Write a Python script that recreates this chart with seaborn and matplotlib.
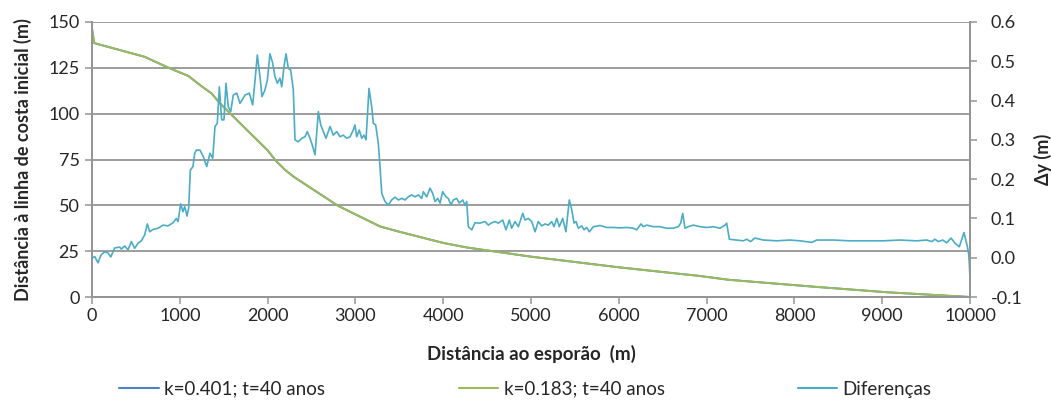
import numpy as np
import pandas as pd
import matplotlib
matplotlib.use("Agg")
import matplotlib.pyplot as plt
import seaborn as sns
from matplotlib.lines import Line2D

# ---------------- data ----------------
k_dist = [0, 25, 600, 850, 1100, 1230, 1363, 1458, 1591, 2000, 2100, 2200, 2300,
          2800, 3280, 3500, 4000, 4270, 5000, 6000, 6700, 6900, 7250, 8200, 9050, 10000]
k183_vals = [146.5, 138.5, 131.0, 125.5, 120.5, 115.6, 111.0, 105.6, 99.3, 80.0, 74.0, 69.3, 65.5,
             49.8, 38.5, 35.6, 29.5, 27.0, 22.0, 16.2, 12.6, 11.6, 9.4, 5.7, 2.6, 0.0]
k401_vals = [146.5, 138.5, 131.0, 125.5, 120.5, 115.6, 111.0, 105.6, 99.3, 80.0, 74.0, 69.3, 65.5,
             49.8, 38.5, 35.6, 29.5, 27.0, 22.0, 16.2, 12.6, 11.6, 9.4, 5.7, 2.6, 0.0]

dif_dist = [0, 31, 68, 103, 145, 182, 213, 259, 316, 334, 372, 410, 448, 486, 524, 562, 600, 630,
            657, 695, 752, 809, 866, 923, 960, 980, 1010, 1036, 1056, 1082, 1101, 1120, 1150,
            1170, 1188, 1230, 1268, 1306, 1344, 1375, 1401, 1427, 1450, 1477, 1503, 1526, 1552,
            1580, 1609, 1648, 1686, 1743, 1792, 1830, 1857, 1883, 1913, 1936, 1970, 1997, 2027,
            2058, 2084, 2111, 2141, 2161, 2187, 2210, 2236, 2263, 2293, 2312, 2350, 2389, 2426,
            2452, 2483, 2514, 2540, 2578, 2605, 2635, 2665, 2711, 2748, 2787, 2825, 2862, 2901,
            2939, 2976, 2995, 3015, 3044, 3072, 3098, 3121, 3155, 3186, 3204, 3231, 3261, 3280,
            3300, 3337, 3375, 3413, 3451, 3489, 3527, 3565, 3603, 3641, 3679, 3717, 3755, 3774,
            3812, 3850, 3880, 3907, 3937, 3964, 3994, 4032, 4058, 4089, 4115, 4154, 4183, 4222,
            4248, 4268, 4286, 4325, 4362, 4419, 4476, 4514, 4553, 4590, 4628, 4678, 4715, 4753,
            4780, 4818, 4856, 4906, 4932, 4969, 5008, 5046, 5083, 5122, 5160, 5197, 5236, 5262,
            5293, 5322, 5361, 5398, 5436, 5464, 5490, 5513, 5539, 5578, 5604, 5634, 5664, 5710,
            5786, 5862, 5937, 6014, 6090, 6165, 6204, 6253, 6279, 6318, 6393, 6469, 6546, 6621,
            6678, 6705, 6728, 6754, 6792, 6849, 6925, 7001, 7077, 7153, 7210, 7229, 7259, 7343,
            7418, 7457, 7502, 7532, 7551, 7646, 7799, 7950, 8064, 8197, 8254, 8443, 8633, 8823,
            9013, 9203, 9393, 9507, 9564, 9601, 9639, 9689, 9734, 9784, 9829, 9878, 9932, 9970,
            9985, 9993, 10000]
dif_vals = [-0.001, 0.003, -0.013, 0.007, 0.015, 0.012, 0.002, 0.025, 0.027, 0.022, 0.030, 0.020,
            0.041, 0.024, 0.037, 0.043, 0.058, 0.086, 0.066, 0.072, 0.075, 0.083, 0.081, 0.089,
            0.100, 0.092, 0.137, 0.117, 0.130, 0.106, 0.126, 0.223, 0.232, 0.266, 0.274, 0.274,
            0.257, 0.232, 0.266, 0.253, 0.334, 0.342, 0.435, 0.351, 0.351, 0.444, 0.384, 0.372,
            0.414, 0.419, 0.393, 0.414, 0.419, 0.389, 0.452, 0.516, 0.461, 0.410, 0.427, 0.452,
            0.519, 0.495, 0.461, 0.444, 0.457, 0.435, 0.486, 0.519, 0.482, 0.478, 0.427, 0.300,
            0.295, 0.304, 0.308, 0.321, 0.304, 0.283, 0.262, 0.372, 0.338, 0.321, 0.304, 0.334,
            0.312, 0.321, 0.308, 0.312, 0.304, 0.308, 0.325, 0.338, 0.308, 0.325, 0.304, 0.312,
            0.300, 0.431, 0.384, 0.342, 0.338, 0.291, 0.232, 0.164, 0.143, 0.134, 0.147, 0.154,
            0.147, 0.151, 0.147, 0.155, 0.160, 0.155, 0.160, 0.151, 0.168, 0.155, 0.177, 0.164,
            0.143, 0.151, 0.139, 0.168, 0.155, 0.151, 0.134, 0.147, 0.151, 0.139, 0.147, 0.134,
            0.143, 0.079, 0.071, 0.089, 0.088, 0.092, 0.083, 0.089, 0.092, 0.088, 0.096, 0.071,
            0.096, 0.075, 0.092, 0.079, 0.113, 0.096, 0.100, 0.092, 0.066, 0.092, 0.081, 0.086,
            0.083, 0.092, 0.079, 0.100, 0.079, 0.100, 0.066, 0.147, 0.122, 0.088, 0.092, 0.075,
            0.081, 0.071, 0.077, 0.066, 0.079, 0.082, 0.077, 0.077, 0.076, 0.077, 0.075, 0.071,
            0.086, 0.079, 0.083, 0.079, 0.079, 0.075, 0.075, 0.079, 0.088, 0.113, 0.075, 0.079,
            0.083, 0.079, 0.077, 0.079, 0.075, 0.083, 0.088, 0.047, 0.045, 0.043, 0.047, 0.041,
            0.047, 0.050, 0.045, 0.043, 0.045, 0.043, 0.039, 0.045, 0.045, 0.043, 0.043, 0.043,
            0.045, 0.043, 0.045, 0.041, 0.047, 0.041, 0.045, 0.038, 0.050, 0.037, 0.028, 0.064,
            0.028, 0.010, -0.020, -0.055]

left_ticks = [0, 25, 50, 75, 100, 125, 150]
right_ticks = [-0.1, 0.0, 0.1, 0.2, 0.3, 0.4, 0.5, 0.6]
x_ticks = [0, 1000, 2000, 3000, 4000, 5000, 6000, 7000, 8000, 9000, 10000]

labels = ["k=0.401; t=40 anos", "k=0.183; t=40 anos", "Diferenças"]
colors = ["#4F81BD", "#9BBB59", "#4BACC6"]

# ---------------- style ----------------
sns.set_style("white")
plt.rcParams["font.family"] = ["Lato", "DejaVu Sans"]
plt.rcParams["font.size"] = 13
txt = "#262626"
grid_c = "#959595"
spine_c = "#959595"

fig = plt.figure(figsize=(10.51, 4.03), dpi=100)
ax = fig.add_axes([92/1051, 1-297/403, (970-92)/1051, (297-22)/403])
ax2 = ax.twinx()

df_k = pd.DataFrame({"d": k_dist, "k401": k401_vals, "k183": k183_vals})
df_d = pd.DataFrame({"d": dif_dist, "dif": dif_vals})

sns.lineplot(data=df_k, x="d", y="k401", ax=ax, color=colors[0], lw=1.4, estimator=None)
sns.lineplot(data=df_k, x="d", y="k183", ax=ax, color=colors[1], lw=1.4, estimator=None)
sns.lineplot(data=df_d, x="d", y="dif", ax=ax2, color=colors[2], lw=1.2, estimator=None)

ax.set_xlim(0, 10000)
ax.set_ylim(0, 150)
ax2.set_ylim(-0.1, 0.6)
ax.set_xticks(x_ticks)
ax.set_yticks(left_ticks)
ax2.set_yticks(right_ticks)
ax2.set_yticklabels([f"{v:.1f}" for v in right_ticks])

ax.yaxis.grid(True, color=grid_c, lw=1.3)
ax.set_axisbelow(True)
ax.xaxis.grid(False)

for a in (ax, ax2):
    for s in a.spines.values():
        s.set_color(spine_c)
        s.set_linewidth(1.3)
    a.spines["top"].set_visible(False)
    a.tick_params(colors=spine_c, labelcolor=txt, labelsize=13, length=5, width=1.1, direction="out")
ax.tick_params(axis="y", left=True, pad=4)
ax.tick_params(axis="x", bottom=True, pad=3)
ax2.tick_params(axis="y", right=True, pad=10)

ax.set_xlabel("Distância ao esporão  (m)", fontsize=13.5, fontweight="bold", color=txt, labelpad=15)
ax.set_ylabel("Distância à linha de costa inicial (m)", fontsize=13, fontweight="bold", color=txt, labelpad=12)
ax2.set_ylabel("Δy (m)", fontsize=13, fontweight="bold", color=txt, labelpad=8)

handles = [Line2D([0], [0], color=c, lw=1.5) for c in colors]
fig.legend(handles, labels, loc="center", ncol=3, bbox_to_anchor=(0.5, 1 - 389/403),
           frameon=False, fontsize=13.5, handlelength=2.1, columnspacing=7.1, handletextpad=0.3)

fig.savefig("out.png", dpi=100)
